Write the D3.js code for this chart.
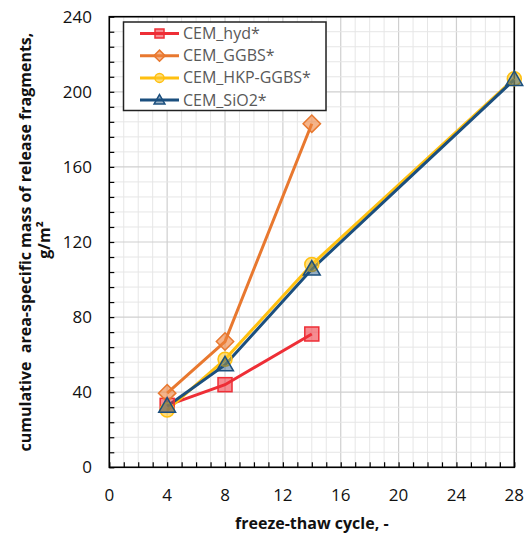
<!DOCTYPE html>
<html><head><meta charset="utf-8">
<script src="https://cdn.jsdelivr.net/npm/d3@7"></script>
<style>body{margin:0;background:#fff}svg{display:block}text{white-space:pre}</style>
</head><body><svg id="c" width="525" height="534"></svg>
<script>
const cycles = [4, 8, 14, 28];
const seriesNames = ["CEM_hyd*", "CEM_GGBS*", "CEM_HKP-GGBS*", "CEM_SiO2*"];
const hydValues = [33, 44, 71, null];
const ggbsValues = [39.5, 67, 183, null];
const hkpValues = [30.5, 57.5, 108, 207];
const sio2Values = [32.5, 54.5, 105.5, 206.5];
const xTicks = [0, 4, 8, 12, 16, 20, 24, 28];
const yTicks = [0, 40, 80, 120, 160, 200, 240];
const xTitle = "freeze-thaw cycle, -";
const yTitle1 = "cumulative  area-specific mass of release fragments,";
const yTitle2 = "g/m²";

const styles = [
  {line:"#EE2E36", stroke:"#EE2E36", fill:"rgba(238,46,54,0.55)", shape:"square"},
  {line:"#E8782F", stroke:"#E8782F", fill:"rgba(238,130,60,0.6)", shape:"diamond"},
  {line:"#FFC010", stroke:"#FFC010", fill:"rgba(255,200,40,0.6)", shape:"circle"},
  {line:"#1B4F7E", stroke:"#1B4F7E", fill:"rgba(27,79,126,0.45)", shape:"triangle"}
];
const allValues = [hydValues, ggbsValues, hkpValues, sio2Values];

const L = 109.3, R = 514.3, T = 16.7, B = 467.3;
const svg = d3.select("#c");
const x = d3.scaleLinear().domain([0, 28]).range([L, R]);
const y = d3.scaleLinear().domain([0, 240]).range([B, T]);
const font = "'Open Sans', sans-serif";

// grid
const g = svg.append("g");
d3.range(0, 29, 1).forEach(v => {
  g.append("line").attr("x1", x(v)).attr("x2", x(v)).attr("y1", T).attr("y2", B)
   .attr("stroke", v % 4 === 0 ? "#cfcfcf" : "#e6e6e6").attr("stroke-width", v % 4 === 0 ? 1.2 : 1);
});
d3.range(0, 241, 8).forEach(v => {
  g.append("line").attr("x1", L).attr("x2", R).attr("y1", y(v)).attr("y2", y(v))
   .attr("stroke", v % 40 === 0 ? "#cfcfcf" : "#e6e6e6").attr("stroke-width", v % 40 === 0 ? 1.2 : 1);
});

// axes with inward ticks
const xAxis = d3.axisBottom(x).tickValues(d3.range(0, 29, 1)).tickSize(-5).tickFormat("");
const yAxis = d3.axisLeft(y).tickValues(d3.range(0, 241, 8)).tickSize(-5).tickFormat("");
const xa = svg.append("g").attr("transform", `translate(0,${B})`).call(xAxis);
const ya = svg.append("g").attr("transform", `translate(${L},0)`).call(yAxis);
[xa, ya].forEach(a => { a.select(".domain").remove(); a.selectAll("line").attr("stroke", "#000").attr("stroke-width", 1.2); });

svg.append("rect").attr("x", L).attr("y", T).attr("width", R - L).attr("height", B - T)
  .attr("fill", "none").attr("stroke", "#000").attr("stroke-width", 1.6);

// tick labels
svg.append("g").selectAll("text").data(xTicks).join("text")
  .attr("x", d => x(d)).attr("y", 501).attr("text-anchor", "middle")
  .attr("font-family", font).attr("font-size", 17).attr("fill", "#111").text(d => d);
svg.append("g").selectAll("text").data(yTicks).join("text")
  .attr("x", 92).attr("y", d => y(d) + 6).attr("text-anchor", "end")
  .attr("font-family", font).attr("font-size", 17).attr("fill", "#111").text(d => d);

// titles
svg.append("text").attr("x", (L + R) / 2).attr("y", 529).attr("text-anchor", "middle")
  .attr("font-family", font).attr("font-weight", "bold").attr("font-size", 16).attr("fill", "#111").text(xTitle);
svg.append("text").attr("transform", `translate(31,242) rotate(-90)`).attr("text-anchor", "middle")
  .attr("font-family", font).attr("font-weight", "bold").attr("font-size", 16).attr("fill", "#111").text(yTitle1);
svg.append("text").attr("transform", `translate(50,240) rotate(-90)`).attr("text-anchor", "middle")
  .attr("font-family", font).attr("font-weight", "bold").attr("font-size", 16).attr("fill", "#111").text(yTitle2);

function marker(sel, shape, size, st) {
  const s = size;
  let m;
  if (shape === "square") m = sel.append("rect").attr("x", -s/2).attr("y", -s/2).attr("width", s).attr("height", s);
  else if (shape === "diamond") m = sel.append("path").attr("d", `M0,${-s*0.62}L${s*0.62},0L0,${s*0.62}L${-s*0.62},0Z`);
  else if (shape === "circle") m = sel.append("circle").attr("r", s/2);
  else m = sel.append("path").attr("d", `M0,${-s*0.62}L${s*0.6},${s*0.42}L${-s*0.6},${s*0.42}Z`);
  m.attr("fill", st.fill).attr("stroke", st.stroke).attr("stroke-width", 1.5);
}

const line = d3.line().defined(d => d[1] != null).x(d => x(d[0])).y(d => y(d[1]));
const plot = svg.append("g");
allValues.forEach((vals, i) => {
  const pts = cycles.map((c, j) => [c, vals[j]]).filter(d => d[1] != null);
  plot.append("path").attr("d", line(pts)).attr("fill", "none")
    .attr("stroke", styles[i].line).attr("stroke-width", 3);
});
allValues.forEach((vals, i) => {
  const pts = cycles.map((c, j) => [c, vals[j]]).filter(d => d[1] != null);
  pts.forEach(p => {
    const mg = plot.append("g").attr("transform", `translate(${x(p[0])},${y(p[1])})`);
    marker(mg, styles[i].shape, 14, styles[i]);
  });
});

// legend
const lg = svg.append("g");
lg.append("rect").attr("x", 123.5).attr("y", 22).attr("width", 202.5).attr("height", 88.5)
  .attr("fill", "#fff").attr("stroke", "#222").attr("stroke-width", 1.5);
seriesNames.forEach((n, i) => {
  const yy = 33.5 + i * 22.2;
  lg.append("line").attr("x1", 140).attr("x2", 179).attr("y1", yy).attr("y2", yy)
    .attr("stroke", styles[i].line).attr("stroke-width", 3);
  const mg = lg.append("g").attr("transform", `translate(159.5,${yy})`);
  marker(mg, styles[i].shape, 9, styles[i]);
  lg.append("text").attr("x", 183).attr("y", yy + 5.5).attr("font-family", font)
    .attr("font-size", 16).attr("fill", "#595959").text(n);
});
</script></body></html>
